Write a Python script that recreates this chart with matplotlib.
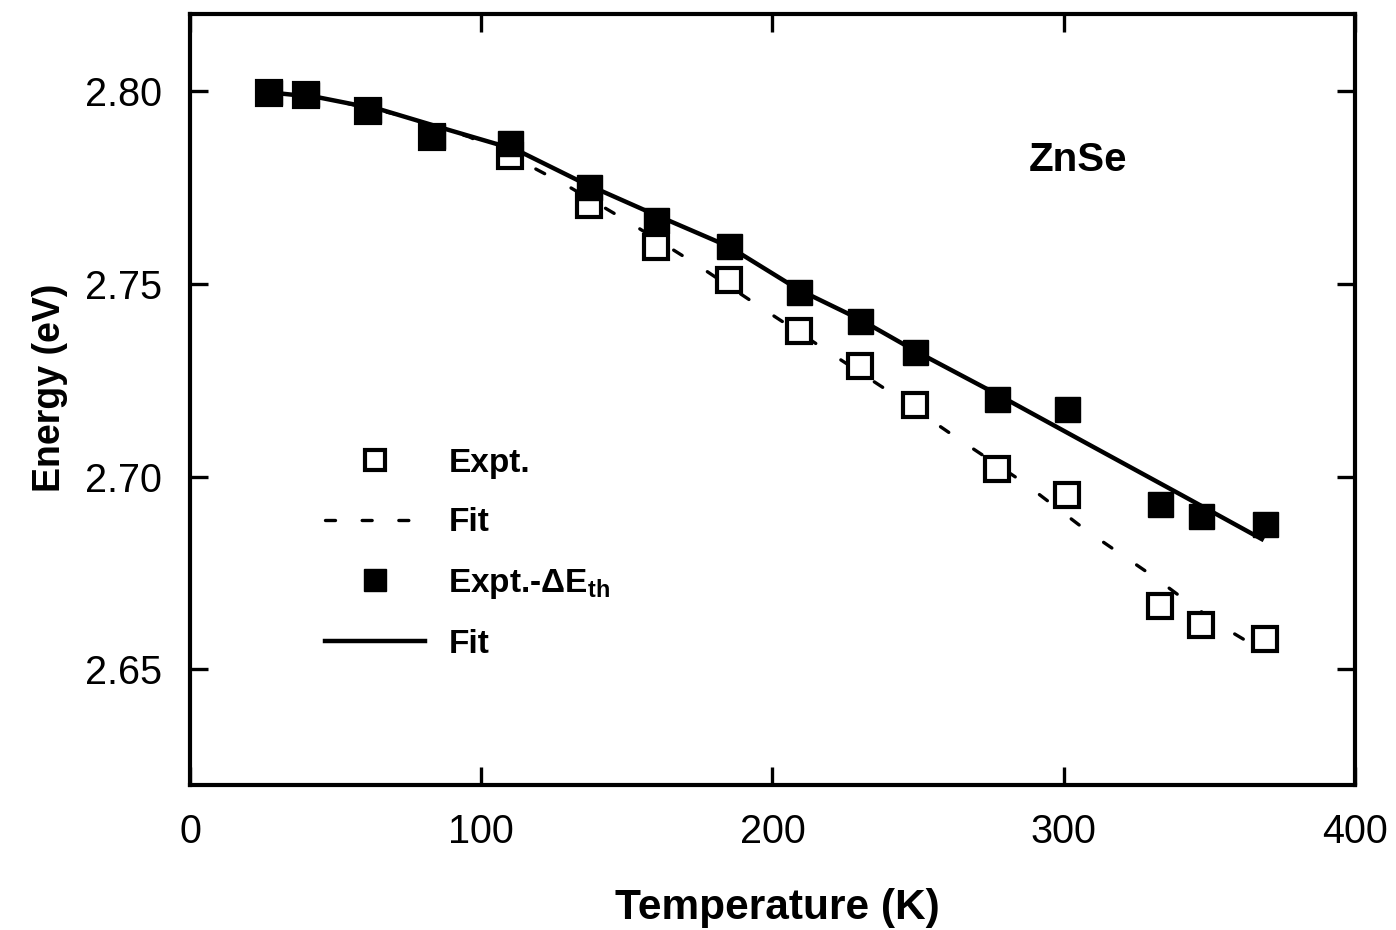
import matplotlib
matplotlib.use("Agg")
import matplotlib.pyplot as plt
from matplotlib.lines import Line2D

plt.rcParams['font.family'] = ['Liberation Sans', 'DejaVu Sans']
plt.rcParams['mathtext.fontset'] = 'custom'
plt.rcParams['mathtext.rm'] = 'Liberation Sans:bold'
plt.rcParams['mathtext.bf'] = 'Liberation Sans:bold'
plt.rcParams['mathtext.it'] = 'Liberation Sans:bold'

# measured points (K, eV)
temp = [27, 40, 61, 83, 110, 137, 160, 185, 209, 230, 249, 277, 301, 333, 347, 369]
e_expt = [2.7995, 2.7990, 2.7948, 2.7882, 2.7832, 2.7705, 2.7596, 2.7511, 2.7377,
          2.7286, 2.7185, 2.7020, 2.6952, 2.6665, 2.6616, 2.6580]
e_corr = [2.7997, 2.7992, 2.7951, 2.7884, 2.7865, 2.7752, 2.7666, 2.7599, 2.7480,
          2.7405, 2.7322, 2.7201, 2.7175, 2.6929, 2.6898, 2.6877]

# fit curves
fit_t_expt = [27, 50, 72, 96, 118, 129, 151, 174, 196, 219, 241, 263, 286, 308, 331, 342, 354, 366]
fit_e_expt = [2.7997, 2.7975, 2.7938, 2.7881, 2.7801, 2.7757, 2.7659, 2.7550, 2.7439, 2.7325,
              2.7216, 2.7102, 2.6986, 2.6859, 2.6740, 2.6678, 2.6613, 2.6559]
fit_t_corr = [27, 44, 66, 89, 112, 135, 158, 185, 209, 230, 250, 277, 307, 341, 368]
fit_e_corr = [2.7997, 2.7984, 2.7951, 2.7899, 2.7848, 2.7762, 2.7685, 2.7597, 2.7485,
              2.7408, 2.7322, 2.7214, 2.7090, 2.6950, 2.6838]

fig = plt.figure(figsize=(13.96, 9.30), dpi=100)
ax = fig.add_axes([0.1361, 0.1559, 0.8345, 0.8290])

ax.plot(fit_t_expt, fit_e_expt, color='black', lw=2.4, linestyle=(0, (3, 9)),
        dash_capstyle='round', zorder=2)
ax.plot(fit_t_corr, fit_e_corr, color='black', lw=3.2, zorder=2)
ax.plot(temp, e_expt, 's', ms=17.5, mfc='white', mec='black', mew=3, zorder=3)
ax.plot(temp, e_corr, 's', ms=18, mfc='black', mec='black', mew=1, zorder=4)

ax.set_xlim(0, 400)
ax.set_ylim(2.62, 2.82)
ax.set_xticks([0, 100, 200, 300, 400])
ax.set_yticks([2.65, 2.70, 2.75, 2.80])
ax.set_yticklabels(['2.65', '2.70', '2.75', '2.80'])

for s in ax.spines.values():
    s.set_linewidth(3)
ax.tick_params(direction='in', length=13, width=2.4, top=True, right=True,
               labelsize=28.5, pad=20)

ax.set_xlabel('Temperature (K)', fontsize=30.5, fontweight='bold')
ax.set_ylabel('Energy (eV)', fontsize=27, fontweight='bold')
ax.xaxis.set_label_coords(0.504, -0.133)
ax.yaxis.set_label_coords(-0.105, 0.515)

ax.text(288, 2.7822, 'ZnSe', fontsize=29, fontweight='bold', ha='left', va='center')

handles = [
    Line2D([], [], ls='none', marker='s', ms=14.5, mfc='white', mec='black', mew=3),
    Line2D([], [], color='black', lw=2.4, ls=(0, (3, 8)), dash_capstyle='round'),
    Line2D([], [], ls='none', marker='s', ms=16, mfc='black', mec='black'),
    Line2D([], [], color='black', lw=3.2),
]
labels = ['Expt.', 'Fit', 'Expt.-ΔE$_{\\mathrm{th}}$', 'Fit']
ax.legend(handles, labels, loc='upper left', bbox_to_anchor=(0.116, 0.437),
          frameon=False, borderpad=0, borderaxespad=0, handlelength=3.0,
          handletextpad=0.7, labelspacing=0.85,
          prop={'size': 24, 'weight': 'bold'})

fig.savefig('out.png', dpi=100)
